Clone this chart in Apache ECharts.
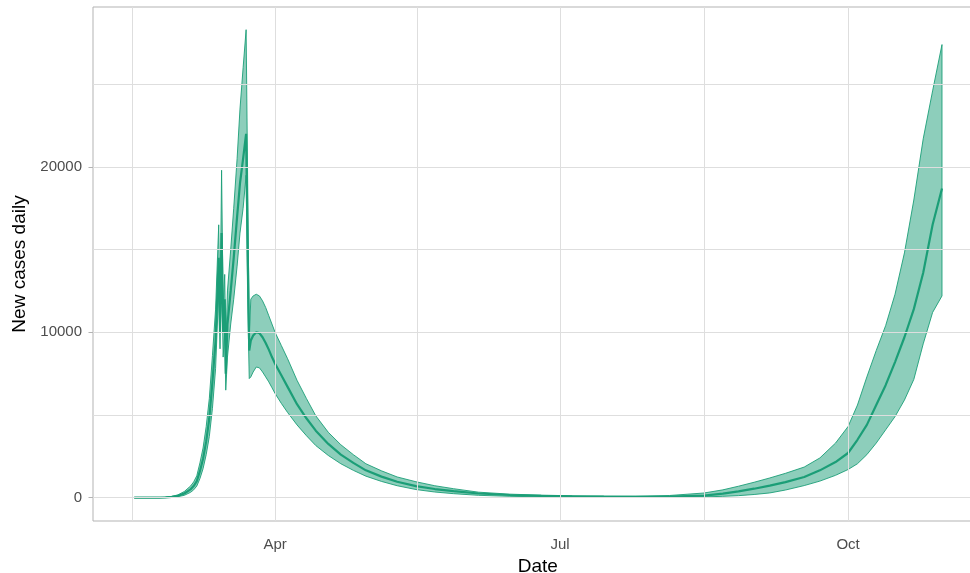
<!DOCTYPE html>
<html>
<head>
<meta charset="utf-8">
<script src="https://cdn.jsdelivr.net/npm/echarts@6/dist/echarts.min.js"></script>
<style>
html,body{margin:0;padding:0;background:#fff;}
#chart{width:970px;height:573px;}
</style>
</head>
<body>
<div id="chart"></div>
<script>
// ---- data ----
const dates = [
 '2020-02-16','2020-02-20','2020-02-24','2020-02-26','2020-02-28','2020-03-01','2020-03-03','2020-03-05',
 '2020-03-06','2020-03-07','2020-03-08','2020-03-09','2020-03-10','2020-03-11','2020-03-12','2020-03-13',
 '2020-03-14T00:00','2020-03-14T10:00','2020-03-14T22:00','2020-03-15T10:00','2020-03-15T22:00','2020-03-16T06:00',
 '2020-03-16T19:00','2020-03-17T20:00','2020-03-18T19:00','2020-03-19T21:00','2020-03-20T19:00','2020-03-21T19:00',
 '2020-03-22T18:00','2020-03-23T06:00','2020-03-23T18:00','2020-03-24T06:00',
 '2020-03-25','2020-03-26','2020-03-27','2020-03-28','2020-03-29','2020-03-30','2020-03-31','2020-04-01',
 '2020-04-03','2020-04-05','2020-04-08','2020-04-11','2020-04-14','2020-04-18','2020-04-22','2020-04-26',
 '2020-04-30','2020-05-05','2020-05-10','2020-05-16','2020-05-22','2020-05-28','2020-06-05','2020-06-15',
 '2020-06-25','2020-07-05','2020-07-15','2020-07-25','2020-08-05','2020-08-16','2020-08-22','2020-08-27',
 '2020-09-01','2020-09-06','2020-09-11','2020-09-17','2020-09-22','2020-09-27','2020-10-01','2020-10-04',
 '2020-10-07','2020-10-10','2020-10-13','2020-10-16','2020-10-19','2020-10-22','2020-10-25','2020-10-28',
 '2020-10-31'
];
const lower = [
 0,0,0,5,20,60,140,320,
 470,700,1150,1750,2600,3700,5400,7800,
 12500,9000,14000,8500,10000,6500,
 8500,10500,12000,14000,16000,17500,
 19500,12000,7200,7300,
 7600,7900,7850,7600,7300,7000,6650,6300,
 5700,5150,4400,3750,3150,2550,2050,1650,
 1300,980,720,490,340,240,140,80,
 50,35,25,20,25,45,80,120,
 190,285,460,730,1000,1350,1700,2050,
 2600,3300,4100,4900,5900,7150,9300,11200,
 12200
];
const mid = [
 0,0,0,15,45,110,250,500,
 700,1000,1600,2350,3400,4800,7000,9500,
 14500,10000,16000,10000,12000,7500,
 10500,12500,14500,17000,19000,20500,
 22000,15000,8900,9500,
 9800,10000,9950,9700,9350,8950,8500,8100,
 7400,6700,5650,4800,4050,3250,2600,2100,
 1650,1270,960,700,520,390,250,160,
 110,80,60,55,70,120,240,380,
 540,730,940,1250,1650,2150,2700,3500,
 4400,5600,6800,8200,9700,11400,13600,16500,
 18700
];
const upper = [
 0,0,5,25,70,170,370,700,
 950,1320,2100,3000,4300,6000,8600,11400,
 16500,11000,19800,11500,13500,9000,
 12500,15000,17500,20500,23500,26000,
 28300,19000,9600,12000,
 12200,12300,12200,11900,11500,11000,10500,10000,
 9200,8400,7100,6000,4950,3950,3200,2600,
 2050,1620,1250,960,720,540,330,210,
 150,110,90,85,130,280,470,690,
 930,1190,1470,1850,2400,3300,4300,5600,
 7300,8900,10400,12300,14800,18000,21700,24600,
 27400
];
const xTickDates = ['2020-04-01','2020-07-01','2020-10-01'];
const xTickLabels = ['Apr','Jul','Oct'];
const xGridDates = ['2020-02-15T12:00','2020-04-01','2020-05-16T12:00','2020-07-01','2020-08-16','2020-10-01'];
const yTicks = [0,10000,20000];
const yGrid = [0,5000,10000,15000,20000,25000];

// ---- helpers ----
function ts(s){ return Date.parse(s.length === 10 ? s + 'T00:00Z' : s + 'Z'); }
const DAY = 86400000;
const T = dates.map(ts);
const xMin = ts('2020-04-01') - 58.15 * DAY;
const xMax = ts('2020-10-01') + 43 * DAY;
const tickTs = xTickDates.map(ts);

const chart = echarts.init(document.getElementById('chart'), null, {renderer:'canvas'});
const FONT = 'Liberation Sans, Arial, sans-serif';
const GREEN = '#1b9e77';

const gridMarks = [];
xGridDates.forEach(d => gridMarks.push({xAxis: ts(d)}));
yGrid.forEach(v => gridMarks.push({yAxis: v}));

chart.setOption({
  animation: false,
  backgroundColor: '#ffffff',
  grid: {left: 93, top: 7, width: 889.7, height: 514, outerBoundsMode: 'none', containLabel: false,
         show: true, borderColor: '#b3b3b3', borderWidth: 1, backgroundColor: 'transparent'},
  xAxis: {
    type: 'value', min: xMin, max: xMax, scale: true,
    name: 'Date', nameLocation: 'middle', nameGap: 36,
    nameTextStyle: {fontFamily: FONT, fontSize: 19, color: '#000'},
    axisLine: {show: false},
    splitLine: {show: false},
    axisTick: {show: true, customValues: tickTs, length: 4.5, lineStyle: {color: '#b3b3b3'}},
    axisLabel: {
      customValues: tickTs, margin: 16, color: '#4d4d4d', fontFamily: FONT, fontSize: 15,
      formatter: function(v){ const i = tickTs.indexOf(v); return i >= 0 ? xTickLabels[i] : ''; }
    }
  },
  yAxis: {
    type: 'value', min: -1413, max: 29673,
    name: 'New cases daily', nameLocation: 'middle', nameGap: 61, nameRotate: 90,
    nameTextStyle: {fontFamily: FONT, fontSize: 19, color: '#000'},
    axisLine: {show: false},
    splitLine: {show: false},
    axisTick: {show: true, customValues: yTicks, length: 4.5, lineStyle: {color: '#b3b3b3'}},
    axisLabel: {customValues: yTicks, margin: 11, color: '#4d4d4d', fontFamily: FONT, fontSize: 15,
      formatter: function(v){ return String(v); }}
  },
  series: [
    {
      type: 'line', data: [], silent: true, z: 0,
      markLine: {silent: true, symbol: ['none','none'], label: {show: false},
        lineStyle: {color: '#dedede', width: 1, type: 'solid'}, data: gridMarks, animation: false}
    },
    {
      type: 'custom', z: 2, silent: true,
      data: [[T[0], 0]], encode: {x: 0, y: 1},
      renderItem: function(params, api){
        const pts = [];
        for (let i = 0; i < T.length; i++) pts.push(api.coord([T[i], upper[i]]));
        for (let i = T.length - 1; i >= 0; i--) pts.push(api.coord([T[i], lower[i]]));
        return {
          type: 'polygon',
          shape: {points: pts},
          style: {fill: 'rgba(27,158,119,0.5)', stroke: GREEN, lineWidth: 0.9}
        };
      }
    },
    {
      type: 'line', z: 3, silent: true, showSymbol: false,
      data: T.map((t, i) => [t, mid[i]]),
      lineStyle: {color: GREEN, width: 2.2},
      itemStyle: {color: GREEN}
    }
  ]
});
</script>
</body>
</html>
